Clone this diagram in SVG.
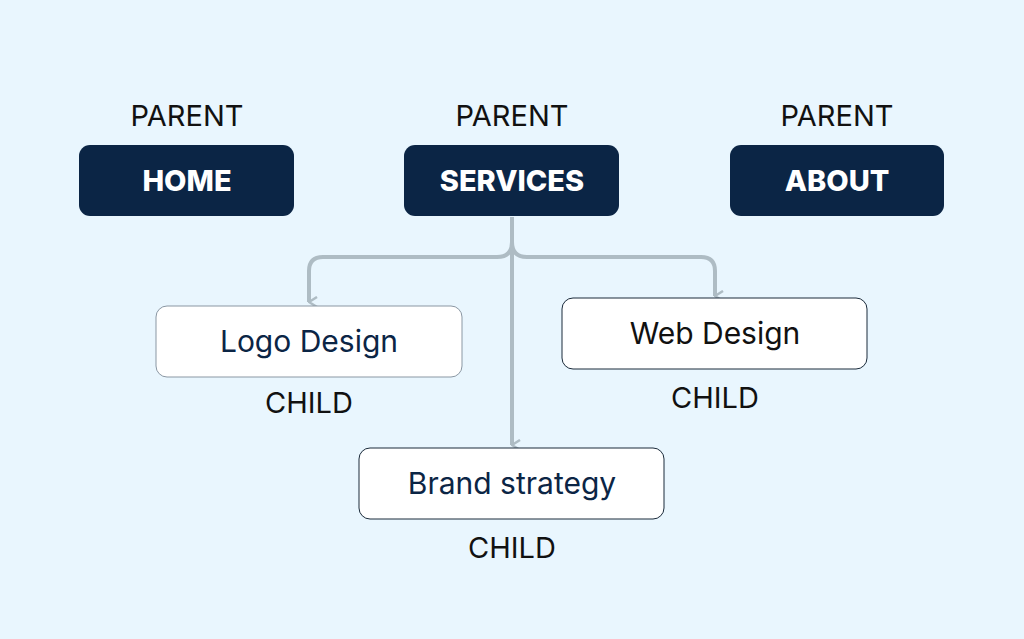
<svg xmlns="http://www.w3.org/2000/svg" width="1024" height="639" viewBox="0 0 1024 639">
<style>
.bg{fill:#e9f6fe}
.p{fill:#0b2545}
.pt{font-family:Inter,"Liberation Sans",sans-serif;font-weight:800;font-size:29px;fill:#fff;text-anchor:middle}
.lab{font-family:Inter,"Liberation Sans",sans-serif;font-size:29px;fill:#111;text-anchor:middle}
.c{fill:#fff;stroke-width:1}
.ct{font-family:Inter,"Liberation Sans",sans-serif;font-size:30px;fill:#0b2545;text-anchor:middle}
.ln{fill:none;stroke:#aebcc4;stroke-width:4}
</style>
<defs><marker id="a" viewBox="0 0 12 10" refX="6" refY="9" markerWidth="12" markerHeight="10" markerUnits="userSpaceOnUse" orient="auto-start-reverse"><path d="M1,1 L6,9 L11,1" fill="none" stroke="#aebcc4" stroke-width="2.5"/></marker></defs>
<rect class="bg" width="1024" height="639"/>
<g id="connectors">
<path class="ln" d="M512,217 V242 Q512,257 497,257 H323 Q309,257 309,271 V302" marker-end="url(#a)"/>
<path class="ln" d="M512,242 Q512,257 527,257 H701 Q715,257 715,271 V296" marker-end="url(#a)"/>
<path class="ln" d="M512,242 V445" marker-end="url(#a)"/>
</g>
<g id="home"><text class="lab" x="187" y="126">PARENT</text><rect class="p" x="79" y="145" width="215" height="71" rx="11"/><text class="pt" x="187" y="191">HOME</text></g>
<g id="services"><text class="lab" x="512" y="126">PARENT</text><rect class="p" x="404" y="145" width="215" height="71" rx="11"/><text class="pt" x="512" y="191">SERVICES</text></g>
<g id="about"><text class="lab" x="837" y="126">PARENT</text><rect class="p" x="730" y="145" width="214" height="71" rx="11"/><text class="pt" x="837" y="191">ABOUT</text></g>
<g id="logo"><rect class="c" stroke="#8a97a3" x="156" y="306" width="306" height="71" rx="11"/><text class="ct" x="309" y="352">Logo Design</text><text class="lab" x="309" y="413">CHILD</text></g>
<g id="web"><rect class="c" stroke="#1a2a3a" x="562" y="298" width="305" height="71" rx="11"/><text class="ct" x="715" y="344" style="fill:#111">Web Design</text><text class="lab" x="715" y="408">CHILD</text></g>
<g id="brand"><rect class="c" stroke="#1a2a3a" x="359" y="448" width="305" height="71" rx="11"/><text class="ct" x="512" y="494">Brand strategy</text><text class="lab" x="512" y="558">CHILD</text></g>
</svg>
